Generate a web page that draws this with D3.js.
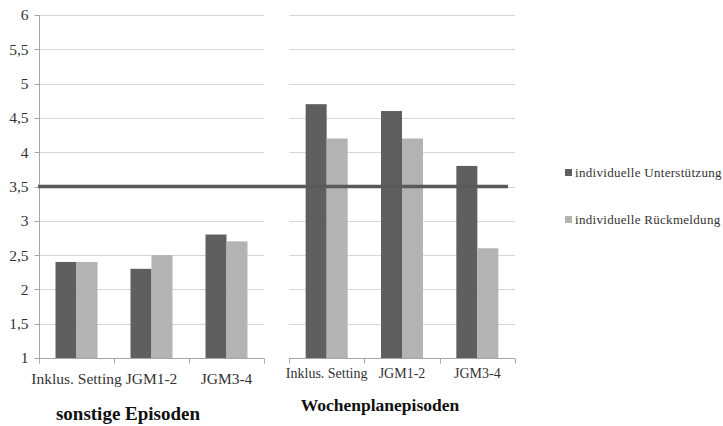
<!DOCTYPE html>
<html>
<head>
<meta charset="utf-8">
<script src="https://cdn.jsdelivr.net/npm/d3@7"></script>
</head>
<body style="margin:0">
<script>
// Categories and series
const categories = ["Inklus. Setting", "JGM1-2", "JGM3-4"];
const seriesNames = ["individuelle Unterstützung", "individuelle Rückmeldung"];
const seriesColors = ["#5f5f5f", "#b3b3b3"];

// Mean ratings per panel (series 1, series 2)
const sonstigeUnterstuetzung = [2.4, 2.3, 2.8];
const sonstigeRueckmeldung = [2.4, 2.5, 2.7];
const wochenplanUnterstuetzung = [4.7, 4.6, 3.8];
const wochenplanRueckmeldung = [4.2, 4.2, 2.6];

const yTicks = [1, 1.5, 2, 2.5, 3, 3.5, 4, 4.5, 5, 5.5, 6];
const referenceValue = 3.5;

const panelTitles = ["sonstige Episoden", "Wochenplanepisoden"];

const W = 723, H = 426;
const svg = d3.select("body").append("svg").attr("width", W).attr("height", H)
  .style("display", "block");

// All labels share one serif face
function label(sel) {
  return sel.style("font-family", "'Liberation Serif'");
}

const y = d3.scaleLinear().domain([1, 6]).range([358, 15]);
const fmt = d => String(d).replace(".", ",");

const panels = [
  { x0: 39, x1: 264, title: panelTitles[0], titleX: 128, titleY: 420, titleSize: 19,
    catSize: 15.5, catY: 25, values: [sonstigeUnterstuetzung, sonstigeRueckmeldung], showY: true },
  { x0: 289, x1: 515, title: panelTitles[1], titleX: 380, titleY: 411, titleSize: 17.5,
    catSize: 14, catY: 19.5, values: [wochenplanUnterstuetzung, wochenplanRueckmeldung], showY: false }
];

panels.forEach(p => {
  const g = svg.append("g");
  const x = d3.scaleBand().domain(categories).range([p.x0, p.x1]).paddingInner(0).paddingOuter(0);
  const groupW = 42;
  const xs = d3.scaleBand().domain(d3.range(seriesNames.length)).range([0, groupW]);

  // Horizontal gridlines
  g.append("g").selectAll("line").data(yTicks.filter(t => t > 1)).join("line")
    .attr("x1", p.x0).attr("x2", p.x1)
    .attr("y1", d => Math.round(y(d)) + 0.5).attr("y2", d => Math.round(y(d)) + 0.5)
    .attr("stroke", "#d6d6d6").attr("stroke-width", 1);

  // Bars
  p.values.forEach((vals, si) => {
    g.append("g").selectAll("rect").data(categories).join("rect")
      .attr("x", c => x(c) + (x.bandwidth() - groupW) / 2 + xs(si))
      .attr("width", xs.bandwidth())
      .attr("y", (c, i) => y(vals[i]))
      .attr("height", (c, i) => y(1) - y(vals[i]))
      .attr("fill", seriesColors[si]);
  });

  // Category axis
  const ax = g.append("g").attr("transform", `translate(0,${Math.round(y(1)) + 0.5})`);
  ax.append("line").attr("x1", p.x0).attr("x2", p.x1).attr("stroke", "#a6a6a6");
  const bounds = [p.x0, ...categories.map(c => x(c) + x.bandwidth())];
  ax.selectAll("line.tk").data(bounds).join("line").attr("class", "tk")
    .attr("x1", d => Math.round(d) + 0.5).attr("x2", d => Math.round(d) + 0.5)
    .attr("y1", 0).attr("y2", 5).attr("stroke", "#a6a6a6");
  label(ax.selectAll("text").data(categories).join("text"))
    .attr("x", c => x(c) + x.bandwidth() / 2).attr("y", p.catY)
    .attr("text-anchor", "middle").attr("font-size", p.catSize).attr("fill", "#333")
    .text(c => c);

  // Value axis (left panel only)
  if (p.showY) {
    const ya = g.append("g").attr("transform", `translate(${p.x0 + 0.5},0)`);
    ya.append("line").attr("y1", y(6)).attr("y2", y(1)).attr("stroke", "#a6a6a6");
    ya.selectAll("line.tk").data(yTicks).join("line").attr("class", "tk")
      .attr("x1", -5).attr("x2", 0)
      .attr("y1", d => Math.round(y(d)) + 0.5).attr("y2", d => Math.round(y(d)) + 0.5)
      .attr("stroke", "#a6a6a6");
    label(ya.selectAll("text").data(yTicks).join("text"))
      .attr("x", -11).attr("y", d => y(d)).attr("dy", "0.35em")
      .attr("text-anchor", "end").attr("font-size", 15.5).attr("fill", "#333")
      .text(fmt);
  }

  // Panel title
  label(svg.append("text")).attr("x", p.titleX).attr("y", p.titleY)
    .attr("text-anchor", "middle").attr("font-size", p.titleSize).attr("font-weight", "bold")
    .attr("fill", "#111").text(p.title);
});

// Reference line
svg.append("line")
  .attr("x1", 38).attr("x2", 508)
  .attr("y1", y(referenceValue)).attr("y2", y(referenceValue))
  .attr("stroke", "#5a5a5a").attr("stroke-width", 3.5);

// Legend
const legend = svg.append("g");
seriesNames.forEach((n, i) => {
  const ly = 172 + i * 47;
  legend.append("rect").attr("x", 565).attr("y", ly - 3).attr("width", 7).attr("height", 7)
    .attr("fill", seriesColors[i]);
  label(legend.append("text")).attr("x", 575).attr("y", ly).attr("dy", "0.35em")
    .attr("font-size", 13).attr("letter-spacing", 0.3).attr("fill", "#333").text(n);
});
</script>
</body>
</html>
